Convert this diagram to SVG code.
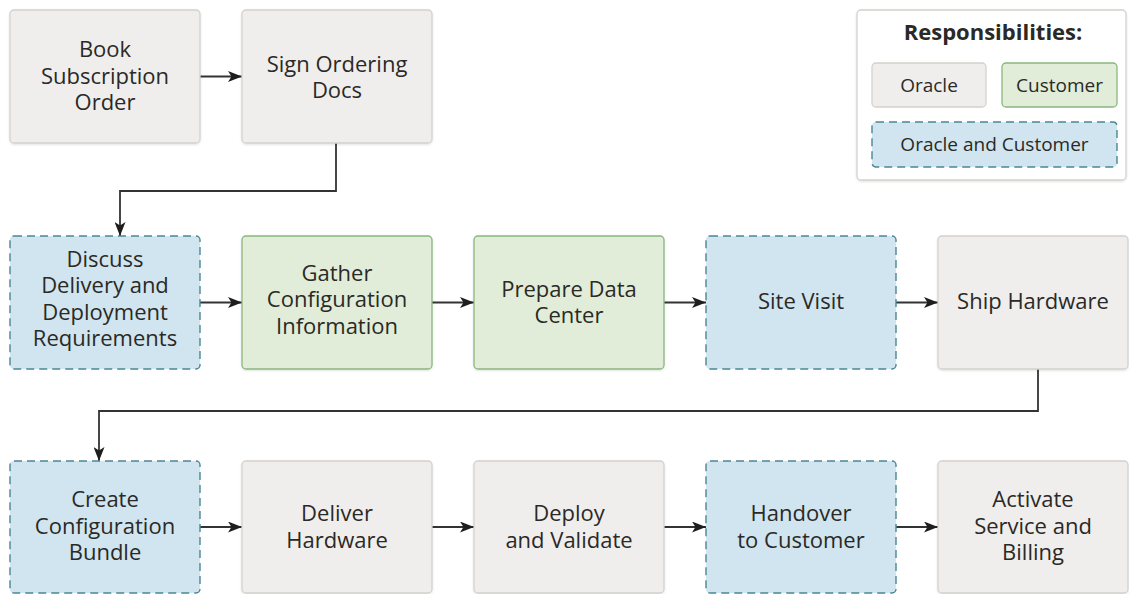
<svg xmlns="http://www.w3.org/2000/svg" width="1129" height="594" viewBox="0 0 1129 594">
<defs>
<style>
.box{stroke-width:1.3}
.oracle{fill:#efeeed;stroke:#d5d1cc}
.cust{fill:#e1edd8;stroke:#89b77d}
.both{fill:#d0e5ef;stroke:#4a8795;stroke-dasharray:8 5;stroke-width:1.4}
.t{font-family:"Open Sans","Noto Sans",sans-serif;font-size:22px;fill:#2b2926;text-anchor:middle}
.lt{font-family:"Open Sans","Noto Sans",sans-serif;font-size:19px;fill:#2b2926;text-anchor:middle}
.title{font-family:"Open Sans","Noto Sans",sans-serif;font-size:22px;font-weight:bold;fill:#2b2926;text-anchor:middle}
.c{fill:none;stroke:#333333;stroke-width:1.8}
</style>
<filter id="sh" x="-5%" y="-5%" width="110%" height="115%">
<feDropShadow dx="0" dy="1" stdDeviation="1" flood-color="#000" flood-opacity="0.12"/>
</filter>
<marker id="ah" viewBox="0 0 14 11" refX="14" refY="5.5" markerWidth="14" markerHeight="11" markerUnits="userSpaceOnUse" orient="auto">
<path d="M0,0 L14,5.5 L0,11 L3.5,5.5 z" fill="#1e1e1e"/>
</marker>
</defs>
<rect width="1129" height="594" fill="#ffffff"/>

<g id="connectors">
<path class="c" d="M200,76.5 H242" marker-end="url(#ah)"/>
<path class="c" d="M336,143 V191 H120 V236" marker-end="url(#ah)"/>
<path class="c" d="M200,302.5 H242" marker-end="url(#ah)"/>
<path class="c" d="M432,302.5 H474" marker-end="url(#ah)"/>
<path class="c" d="M664,302.5 H706" marker-end="url(#ah)"/>
<path class="c" d="M896,302.5 H938" marker-end="url(#ah)"/>
<path class="c" d="M1038,369 V411 H99 V461" marker-end="url(#ah)"/>
<path class="c" d="M200,527 H242" marker-end="url(#ah)"/>
<path class="c" d="M432,527 H474" marker-end="url(#ah)"/>
<path class="c" d="M664,527 H706" marker-end="url(#ah)"/>
<path class="c" d="M896,527 H938" marker-end="url(#ah)"/>
</g>

<g id="book">
<rect class="box oracle" x="10" y="10" width="190" height="133" rx="4" filter="url(#sh)"/>
<text class="t"><tspan x="105" y="57">Book</tspan><tspan x="105" y="83.5">Subscription</tspan><tspan x="105" y="110">Order</tspan></text>
</g>
<g id="sign">
<rect class="box oracle" x="242" y="10" width="190" height="133" rx="4" filter="url(#sh)"/>
<text class="t"><tspan x="337" y="71.5">Sign Ordering</tspan><tspan x="337" y="98">Docs</tspan></text>
</g>

<g id="discuss">
<rect class="box both" x="10" y="236" width="190" height="133" rx="4"/>
<text class="t"><tspan x="105" y="266.5">Discuss</tspan><tspan x="105" y="293">Delivery and</tspan><tspan x="105" y="319.5">Deployment</tspan><tspan x="105" y="346">Requirements</tspan></text>
</g>
<g id="gather">
<rect class="box cust" x="242" y="236" width="190" height="133" rx="4" filter="url(#sh)"/>
<text class="t"><tspan x="337" y="280.5">Gather</tspan><tspan x="337" y="307">Configuration</tspan><tspan x="337" y="333.5">Information</tspan></text>
</g>
<g id="prepare">
<rect class="box cust" x="474" y="236" width="190" height="133" rx="4" filter="url(#sh)"/>
<text class="t"><tspan x="569" y="296.5">Prepare Data</tspan><tspan x="569" y="323">Center</tspan></text>
</g>
<g id="sitevisit">
<rect class="box both" x="706" y="236" width="190" height="133" rx="4"/>
<text class="t" x="801" y="309">Site Visit</text>
</g>
<g id="ship">
<rect class="box oracle" x="938" y="236" width="190" height="133" rx="4" filter="url(#sh)"/>
<text class="t" x="1033" y="309">Ship Hardware</text>
</g>

<g id="create">
<rect class="box both" x="10" y="461" width="190" height="132" rx="4"/>
<text class="t"><tspan x="105" y="507">Create</tspan><tspan x="105" y="533.5">Configuration</tspan><tspan x="105" y="560">Bundle</tspan></text>
</g>
<g id="deliver">
<rect class="box oracle" x="242" y="461" width="190" height="132" rx="4" filter="url(#sh)"/>
<text class="t"><tspan x="337" y="521">Deliver</tspan><tspan x="337" y="547.5">Hardware</tspan></text>
</g>
<g id="deploy">
<rect class="box oracle" x="474" y="461" width="190" height="132" rx="4" filter="url(#sh)"/>
<text class="t"><tspan x="569" y="521">Deploy</tspan><tspan x="569" y="547.5">and Validate</tspan></text>
</g>
<g id="handover">
<rect class="box both" x="706" y="461" width="190" height="132" rx="4"/>
<text class="t"><tspan x="801" y="521">Handover</tspan><tspan x="801" y="547.5">to Customer</tspan></text>
</g>
<g id="activate">
<rect class="box oracle" x="938" y="461" width="190" height="132" rx="4" filter="url(#sh)"/>
<text class="t"><tspan x="1033" y="507">Activate</tspan><tspan x="1033" y="533.5">Service and</tspan><tspan x="1033" y="560">Billing</tspan></text>
</g>

<g id="legend">
<rect x="857" y="10" width="269" height="170" rx="4" fill="#ffffff" stroke="#d5d1cc" stroke-width="1.3" filter="url(#sh)"/>
<text class="title" x="993" y="40">Responsibilities:</text>
<rect class="box oracle" x="872" y="63" width="114" height="44" rx="4"/>
<text class="lt" x="929" y="91.5">Oracle</text>
<rect class="box cust" x="1002" y="63" width="115" height="44" rx="4"/>
<text class="lt" x="1059.5" y="91.5">Customer</text>
<rect class="box both" x="872" y="122" width="245" height="45" rx="4"/>
<text class="lt" x="994.5" y="151">Oracle and Customer</text>
</g>
</svg>
